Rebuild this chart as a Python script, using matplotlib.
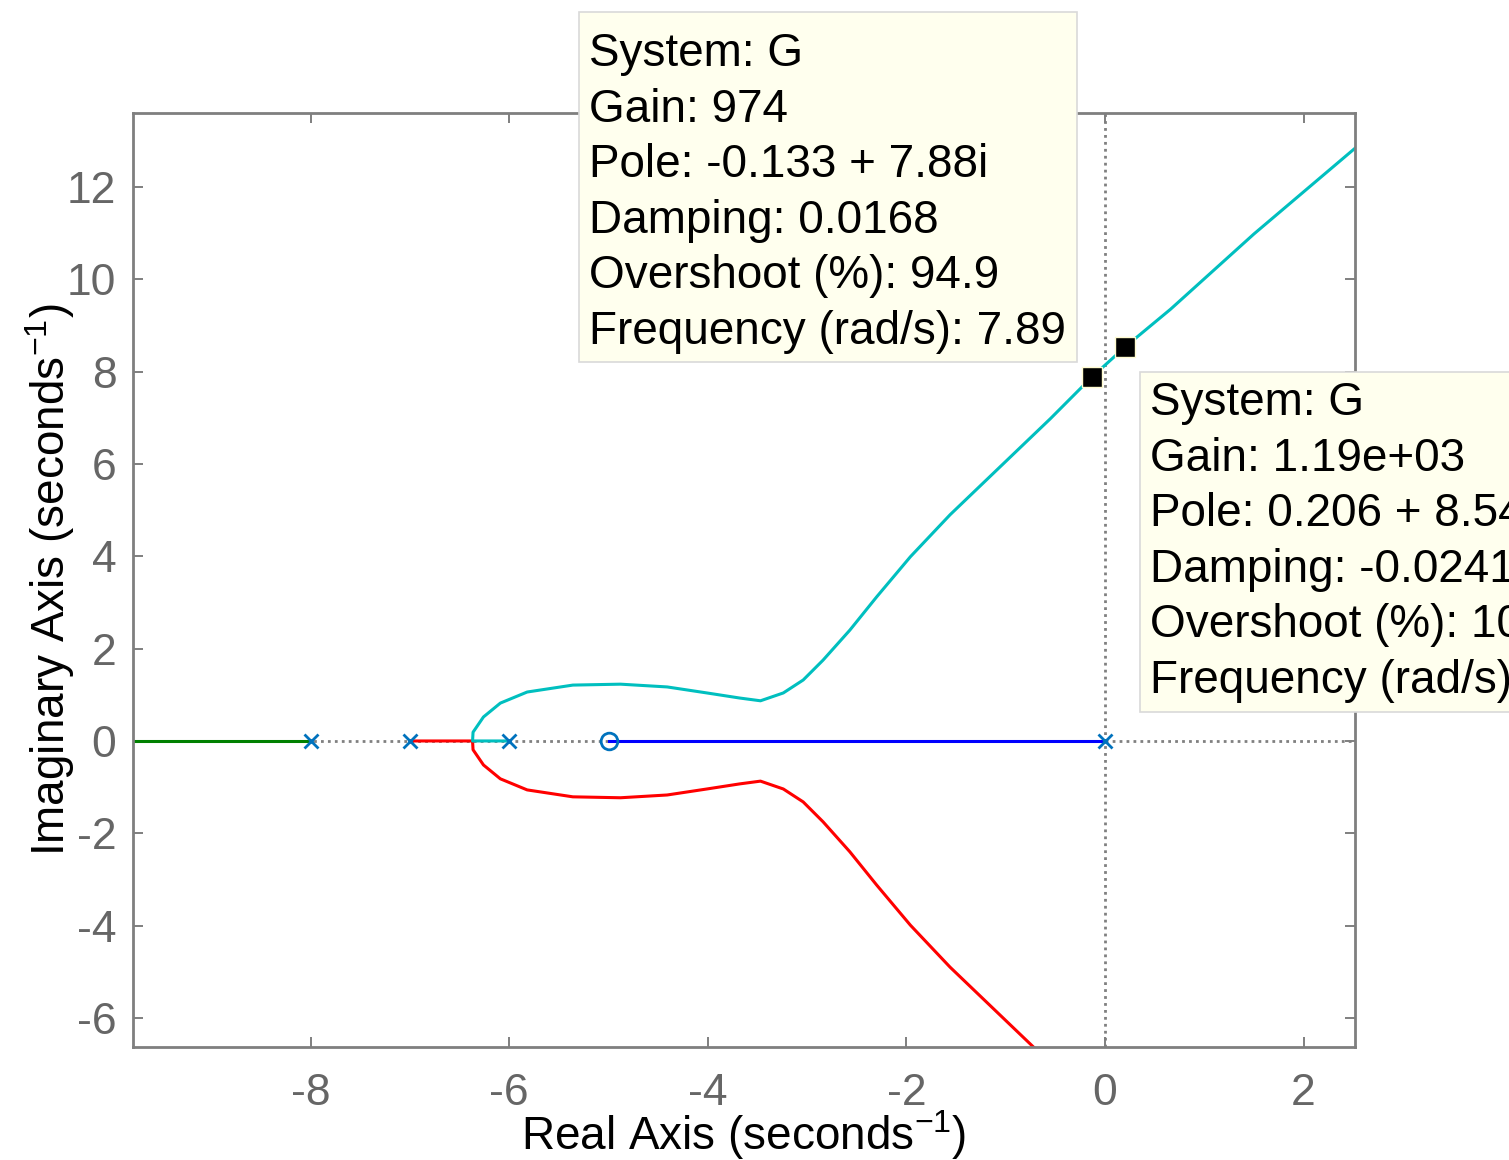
import matplotlib
matplotlib.use("Agg")
import matplotlib.pyplot as plt
from matplotlib.patches import Rectangle

# --- Police ---
plt.rcParams["font.family"] = ["Liberation Sans", "DejaVu Sans"]
plt.rcParams["mathtext.fontset"] = "custom"
plt.rcParams["mathtext.rm"] = "Liberation Sans"

poles_re = [0.0, -6.0, -7.0, -8.0]
zeros_re = [-5.0]

# branche supérieure à partir du point de séparation
branch_re = [-6.37, -6.365, -6.26, -6.09, -5.82, -5.36, -4.88, -4.41, -4.01,
             -3.68, -3.47, -3.24, -3.04, -2.84, -2.57, -2.30, -1.96, -1.56,
             -1.06, -0.55, -0.133, 0.206, 0.66, 1.50, 2.52]
branch_im = [0.0, 0.19, 0.52, 0.82, 1.06, 1.21, 1.23, 1.17, 1.04,
             0.93, 0.87, 1.04, 1.32, 1.75, 2.40, 3.12, 3.99, 4.90,
             5.93, 6.98, 7.88, 8.54, 9.35, 10.98, 12.84]

cyan_re = [-6.0] + branch_re
cyan_im = [0.0] + branch_im
red_re = [-7.0] + branch_re
red_im = [0.0] + [-v for v in branch_im]
green_re = [-8.0, -12.0]
green_im = [0.0, 0.0]
blue_re = [0.0, -5.0]
blue_im = [0.0, 0.0]

# points sélectionnés (data tips)
tips_re = [-0.133, 0.206]
tips_im = [7.88, 8.54]
tip_texts = [
    "System: G\nGain: 974\nPole: -0.133 + 7.88i\nDamping: 0.0168\n"
    "Overshoot (%): 94.9\nFrequency (rad/s): 7.89",
    "System: G\nGain: 1.19e+03\nPole: 0.206 + 8.54i\nDamping: -0.0241\n"
    "Overshoot (%): 108\nFrequency (rad/s): 8.54",
]

xticks = [-8, -6, -4, -2, 0, 2]
yticks = [-6, -4, -2, 0, 2, 4, 6, 8, 10, 12]

W, H = 1509, 1160
fig = plt.figure(figsize=(W / 100, H / 100), dpi=100)
ax = fig.add_axes([133 / W, 1 - 1047 / H, 1222 / W, 934 / H])

grey_axis = "#7f7f7f"
ax.axhline(0, color="#808080", ls=(0, (1, 1.5)), lw=2, zorder=1)
ax.axvline(0, color="#808080", ls=(0, (1, 1.5)), lw=2, zorder=1)

ax.plot(green_re, green_im, color="#008000", lw=2.2, zorder=2)
ax.plot(red_re, red_im, color="#ff0000", lw=2.2, zorder=2)
ax.plot(cyan_re, cyan_im, color="#00bfbf", lw=2.2, zorder=2)
ax.plot(blue_re, blue_im, color="#0000ff", lw=2.2, zorder=2)

ax.plot(poles_re, [0] * len(poles_re), ls="none", marker="x", ms=10, mew=2,
        color="#0072bd", zorder=3)
ax.plot(zeros_re, [0] * len(zeros_re), ls="none", marker="o", ms=12, mew=2,
        mfc="none", color="#0072bd", zorder=3)
ax.plot(tips_re, tips_im, ls="none", marker="s", ms=14, mfc="black",
        mec="#fffbd0", mew=1, zorder=4)

ax.set_xlim(-9.79, 2.518)
ax.set_ylim(-6.628, 13.60)
ax.set_xticks(xticks)
ax.set_yticks(yticks)
ax.set_xticklabels([str(v) for v in xticks])
ax.set_yticklabels([str(v) for v in yticks])
ax.tick_params(direction="in", length=7, width=1.4, color=grey_axis,
               labelcolor="#666666", labelsize=32, top=True, right=True)
ax.tick_params(axis="x", pad=19)
ax.tick_params(axis="y", pad=12)
for sp in ax.spines.values():
    sp.set_color(grey_axis)
    sp.set_linewidth(2)

ax.set_xlabel("Real Axis (seconds$^{\\mathregular{-1}}$)", fontsize=33)
ax.set_ylabel("Imaginary Axis (seconds$^{\\mathregular{-1}}$)", fontsize=33)
ax.xaxis.set_label_coords(0.5, -0.065)
ax.yaxis.set_label_coords(-0.046, 0.5)

# --- Boîtes d'annotation (coordonnées pixels de la figure) ---
boxes = [(579, 12, 498, 350, 589, 66), (1140, 372, 500, 340, 1150, 415)]
for (bx, by, bw, bh, tx, ty), txt in zip(boxes, tip_texts):
    fig.add_artist(Rectangle((bx / W, 1 - (by + bh) / H), bw / W, bh / H,
                             transform=fig.transFigure, facecolor="#ffffee",
                             edgecolor="#d9d9d9", lw=1.2, zorder=5))
    for i, line in enumerate(txt.split("\n")):
        fig.text(tx / W, 1 - (ty + i * 55.6) / H, line, fontsize=33,
                 va="baseline", ha="left", color="black", zorder=6)

fig.savefig("out.png", dpi=100)
